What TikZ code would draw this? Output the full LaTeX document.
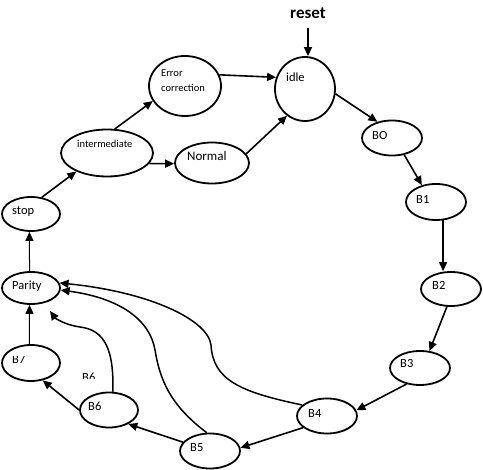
\documentclass[tikz,border=0pt]{standalone}
\usepackage{fontspec}
\setmainfont{Carlito}
\usetikzlibrary{arrows.meta,shapes.geometric,positioning}

\begin{document}
\begin{tikzpicture}[
    x=1pt, y=-1pt,
    font=\fontsize{12.5}{14}\selectfont,
    state/.style={draw=black, line width=1.8pt, ellipse, inner sep=0pt},
    lbl/.style={anchor=base west, inner sep=0pt},
    small/.style={lbl, font=\fontsize{10.5}{12}\selectfont},
    sig/.style={-{Triangle[length=9pt,width=8pt]}, line width=1.6pt},
    thinsig/.style={-{Triangle[length=9pt,width=8pt]}, line width=1pt},
    loop back/.style={-{Triangle[length=9pt,width=8pt]}, line width=1.5pt}
]
    \useasboundingbox (0,0) rectangle (483,470);
    % states
    \node[state, minimum width=60pt, minimum height=64pt] (idle)   at (305,89)  {};
    \node[state, minimum width=72pt, minimum height=60pt] (err)    at (185,86)  {};
    \node[state, minimum width=92pt, minimum height=47pt] (inter)  at (107,153) {};
    \node[state, minimum width=74pt, minimum height=41pt] (normal) at (212,163) {};
    \node[state, minimum width=60pt, minimum height=35pt] (b0)     at (392,138) {};
    \node[state, minimum width=60pt, minimum height=36pt] (b1)     at (436,202) {};
    \node[state, minimum width=58pt, minimum height=34pt] (stop)   at (31,214)  {};
    \node[state, minimum width=58pt, minimum height=32pt] (parity) at (31,288)  {};
    \node[state, minimum width=60pt, minimum height=34pt] (b2)     at (451,289) {};
    \node[state, minimum width=58pt, minimum height=36pt] (b7)     at (31,363)  {};
    \node[state, minimum width=60pt, minimum height=34pt] (b3)     at (420,368) {};
    \node[state, minimum width=58pt, minimum height=35pt] (b6)     at (109,410) {};
    \node[state, minimum width=60pt, minimum height=35pt] (b4)     at (327,416) {};
    \node[state, minimum width=60pt, minimum height=35pt] (b5)     at (210,451) {};
    % labels
    \node[lbl, font=\fontsize{17}{19}\selectfont\bfseries, anchor=base] (reset) at (308,19) {reset};
    \node[lbl] (idle-t) at (286,82) {idle};
    \node[small] (err-t1) at (161,77) {Error};
    \node[small] (err-t2) at (161,92) {correction};
    \node[small] (inter-t) at (77,148) {intermediate};
    \node[lbl, font=\fontsize{13}{15}\selectfont] (normal-t) at (187,161) {Normal};
    \node[lbl] (b0-t) at (372,140) {BO};
    \node[lbl] (b1-t) at (416,204) {B1};
    \node[lbl] (stop-t) at (12,215) {stop};
    \node[lbl] (parity-t) at (12,290) {Parity};
    \node[lbl] (b2-t) at (432,290) {B2};
    \begin{scope}
        \clip (5,356.5) rectangle (40,370);
        \node[lbl] (b7-t) at (12,364) {B7};
    \end{scope}
    \node[lbl] (b3-t) at (400,368) {B3};
    \begin{scope}
        \clip (75,368) rectangle (100,378.5);
        \node[lbl] (ghost-t) at (82,382) {B6};
    \end{scope}
    \node[lbl] (b6-t) at (88,411) {B6};
    \node[lbl] (b4-t) at (308,418) {B4};
    \node[lbl] (b5-t) at (190,452) {B5};
    % transitions
    \draw[sig] ([yshift=-9pt]reset.south) -- (reset.south |- idle.north);
    \draw[sig] (err.18) -- (idle.158);
    \draw[sig] (normal.15) -- (idle.236);
    \draw[sig] (inter.72) -- (err.205);
    \draw[sig] (inter.-14) -- (normal.181);
    \draw[sig] (stop.57) -- (inter.211);
    \draw[sig] (idle.-9) -- (b0.132);
    \draw[sig] (b0.306) -- (b1.130);
    \draw[sig] (b1.291) -- (b1.291 |- b2.north);
    \draw[sig] (b2.257) -- (b3.61);
    \draw[sig] (b3.230) -- (b4.11);
    \draw[sig] (b4.206) -- (b5.6);
    \draw[sig] (b5.162) -- (b6.324);
    \draw[sig] (b6.180) -- (b7.304);
    \draw[thinsig] (b7.95) -- (parity.265);
    \draw[thinsig] (parity.95) -- (stop.265);
    % back to parity
    \coordinate (p6) at (50,311);
    \draw[loop back] (b6.78) .. controls (114,350) and (105,330) .. (80,327)
        .. controls (65,325) and (55,318) .. (p6);
    \draw[loop back] (b5.100) .. controls (170,405) and (160,380) .. (155,350)
        .. controls (150,320) and (120,298) .. (parity.-4);
    \draw[loop back] (b4.156) .. controls (240,392) and (213,380) .. (211,345)
        .. controls (208,320) and (150,292) .. (parity.10);
\end{tikzpicture}
\end{document}
